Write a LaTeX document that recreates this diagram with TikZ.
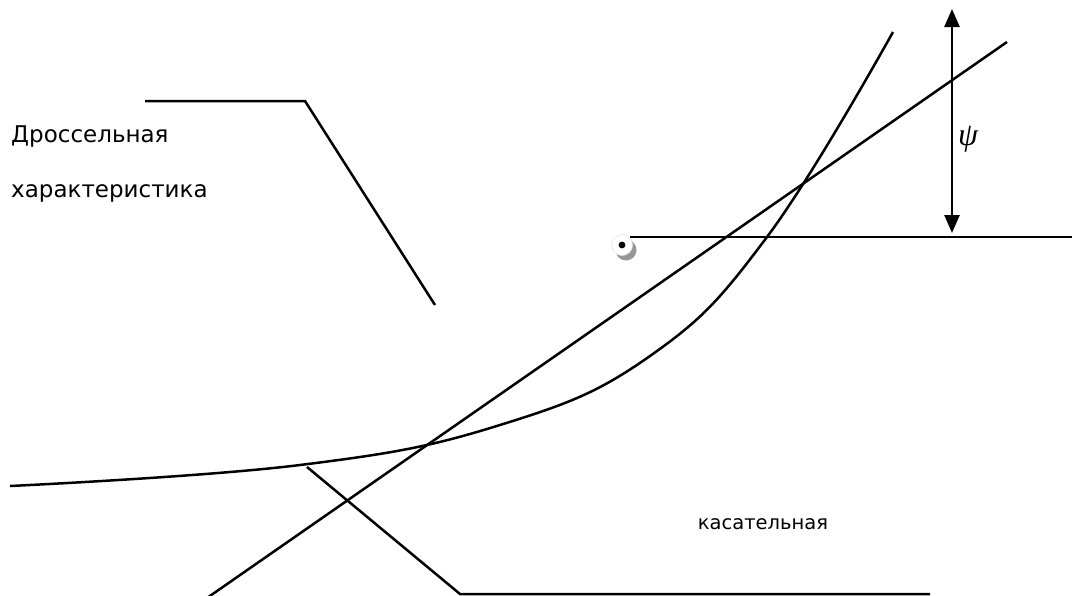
\documentclass[tikz,border=0pt]{standalone}
\usepackage{xcolor}
\usepackage{fontspec}
\setmainfont{DejaVu Sans}
\newfontfamily\greekserif{Liberation Serif}
\usepackage{tikz}
\usetikzlibrary{arrows.meta, positioning, calc}
\definecolor{shadowgray}{RGB}{150, 150, 150}
\definecolor{rimgray}{RGB}{230, 230, 230}

\begin{document}
\begin{tikzpicture}[x=1pt, y=-1pt, line width=2.5pt,
    label/.style={inner sep=0pt, anchor=west, font=\fontsize{23}{27}\selectfont},
    dblarrow/.style={{Triangle[width=15pt,length=18pt]}-{Triangle[width=15pt,length=18pt]}}]
    \useasboundingbox (0,0) rectangle (1072,595);

    % labels
    \node[label] (throttle) at (10,137) {Дроссельная};
    \node[label] (charac) at (10,193) {характеристика};
    \node[inner sep=0pt, font=\fontsize{19.5}{23}\selectfont] (tangent) at (763,524) {касательная};
    \node[inner sep=0pt, font=\greekserif\itshape\fontsize{32}{36}\selectfont] (psi) at (968,139) {ψ};

    % leader lines
    \coordinate (lt1) at (145,101);
    \coordinate (lt2) at (305,101);
    \coordinate (lt3) at (435,305);
    \draw (lt1) -- (lt2) -- (lt3);
    \coordinate (lb1) at (307,467);
    \coordinate (lb2) at (460,594);
    \coordinate (lb3) at (930,594);
    \draw (lb1) -- (lb2) -- (lb3);

    % throttle curve
    \draw plot[smooth, tension=0.7] coordinates {(10,486) (300,465) (500,425)
        (650,356) (767,237) (893,32)};

    % tangent line
    \coordinate (t1) at (207,598);
    \coordinate (t2) at (1007,42);
    \draw (t1) -- (t2);

    % operating point
    \fill[shadowgray] (626,250) circle (10.5);
    \node[circle, fill=white, draw=rimgray, line width=0.6pt, minimum size=21pt, inner sep=0pt] (pt) at (622,245) {};
    \fill (pt.center) circle (3.4);
    \coordinate (hend) at (1072,237);
    \draw (630,237) -- (hend);

    % psi arrow
    \coordinate (atop) at (952,9);
    \coordinate (abot) at (952,233);
    \draw[dblarrow] (atop) -- (abot);
\end{tikzpicture}
\end{document}
